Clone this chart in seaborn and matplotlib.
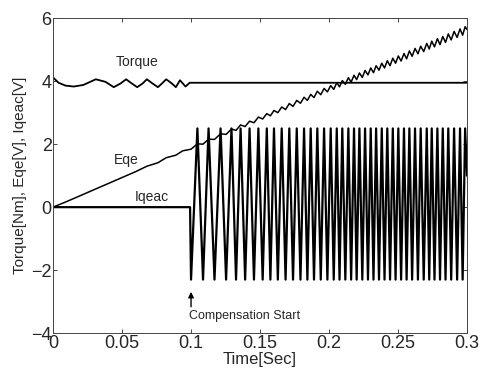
import matplotlib
matplotlib.use("Agg")
import matplotlib.pyplot as plt
import seaborn as sns
import pandas as pd

# Torque
torque_t = [0, 0.004, 0.009, 0.015, 0.022, 0.031, 0.038, 0.044, 0.049, 0.053, 0.057,
            0.061, 0.065, 0.068, 0.072, 0.076, 0.079, 0.082, 0.086, 0.089, 0.092,
            0.096, 0.099, 0.3]
torque_v = [4.12, 3.95, 3.86, 3.83, 3.88, 4.06, 3.98, 3.81, 3.93, 4.06, 3.93,
            3.81, 3.93, 4.06, 3.93, 3.81, 3.93, 4.06, 3.93, 3.81, 4.03,
            3.83, 3.95, 3.95]

# Iqeac extrema times after compensation start
iq_t = [0, 0.0993, 0.1000, 0.1046, 0.1087, 0.1127, 0.1170, 0.1214, 0.1254, 0.1293,
        0.1326, 0.1359, 0.1392, 0.1424, 0.1456, 0.1488, 0.1519, 0.1549, 0.1575,
        0.1601, 0.1629, 0.1657, 0.1685, 0.1712, 0.1739, 0.1766, 0.1793, 0.1819,
        0.1843, 0.1867, 0.1891, 0.1915, 0.1940, 0.1964, 0.1988, 0.2012, 0.2034,
        0.2056, 0.2076, 0.2096, 0.2118, 0.2140, 0.2160, 0.2181, 0.2200, 0.2220,
        0.2241, 0.2261, 0.2282, 0.2302, 0.2322, 0.2341, 0.2362, 0.2382, 0.2402,
        0.2422, 0.2442, 0.2462, 0.2482, 0.2502, 0.2522, 0.2543, 0.2562, 0.2582,
        0.2602, 0.2623, 0.2644, 0.2664, 0.2686, 0.2708, 0.2726, 0.2744, 0.2764,
        0.2785, 0.2804, 0.2824, 0.2844, 0.2864, 0.2885, 0.2906, 0.2928, 0.2949,
        0.2968, 0.2986, 0.3000]
iq_v = [0, 0] + [-2.3, 2.5] * 41 + [1.0]

# Eqe: ramp, small ripple
eqe_t = [0, 0.01, 0.02, 0.03, 0.04, 0.05, 0.06, 0.068, 0.076, 0.082, 0.089, 0.094] + iq_t[2:]
eqe_v = [0, 0.18, 0.37, 0.56, 0.75, 0.94, 1.13, 1.30, 1.41, 1.57, 1.65, 1.79,
         1.84, 2.01, 2.00, 2.16, 2.15, 2.33, 2.31, 2.48, 2.44, 2.61, 2.56, 2.73,
         2.68, 2.86, 2.80, 2.97, 2.90, 3.07, 3.00, 3.18, 3.10, 3.29, 3.20, 3.39,
         3.30, 3.49, 3.39, 3.58, 3.48, 3.68, 3.57, 3.77, 3.66, 3.86, 3.74, 3.95,
         3.82, 4.02, 3.90, 4.11, 3.97, 4.19, 4.05, 4.26, 4.12, 4.34, 4.20, 4.42,
         4.27, 4.49, 4.35, 4.57, 4.42, 4.65, 4.49, 4.73, 4.57, 4.80, 4.64, 4.88,
         4.71, 4.96, 4.79, 5.04, 4.87, 5.11, 4.94, 5.20, 5.02, 5.27, 5.09, 5.35,
         5.16, 5.42, 5.23, 5.50, 5.31, 5.58, 5.39, 5.66, 5.46, 5.73, 5.64]

xticks = [0, 0.05, 0.1, 0.15, 0.2, 0.25, 0.3]
xtick_labels = ["0", "0.05", "0.1", "0.15", "0.2", "0.25", "0.3"]
yticks = [-4, -2, 0, 2, 4, 6]

sns.set_style("ticks")
plt.rcParams['font.family'] = ['Liberation Sans', 'DejaVu Sans']

fig = plt.figure(figsize=(4.82, 3.79), dpi=100)
ax = fig.add_axes([0.110, 0.121, 0.859, 0.831])

df_tq = pd.DataFrame({'t': torque_t, 'v': torque_v})
df_eq = pd.DataFrame({'t': eqe_t, 'v': eqe_v})
df_iq = pd.DataFrame({'t': iq_t, 'v': iq_v})

sns.lineplot(data=df_tq, x='t', y='v', ax=ax, color='black', linewidth=1.3, estimator=None, sort=False)
sns.lineplot(data=df_eq, x='t', y='v', ax=ax, color='black', linewidth=1.1, estimator=None, sort=False)
sns.lineplot(data=df_iq, x='t', y='v', ax=ax, color='black', linewidth=1.6, estimator=None, sort=False)

ax.set_xlim(0, 0.3)
ax.set_ylim(-4, 6)
ax.set_xticks(xticks)
ax.set_xticklabels(xtick_labels)
ax.set_yticks(yticks)
ax.tick_params(direction='in', length=3, width=0.6, labelsize=13, pad=1, top=True, right=True)
for s in ax.spines.values():
    s.set_linewidth(0.7)
    s.set_color('#444444')

ax.set_xlabel('Time[Sec]', fontsize=12, labelpad=0)
ax.set_ylabel('Torque[Nm], Eqe[V], Iqeac[V]', fontsize=11, labelpad=3)

ax.text(0.0606, 4.61, 'Torque', fontsize=10, ha='center', va='center')
ax.text(0.053, 1.49, 'Eqe', fontsize=10, ha='center', va='center')
ax.text(0.0715, 0.33, 'Iqeac', fontsize=10, ha='center', va='center')
ax.annotate('', xy=(0.1, -2.6), xytext=(0.1, -3.25),
            arrowprops=dict(arrowstyle='-|>', color='black', lw=1, mutation_scale=8))
ax.text(0.0985, -3.45, 'Compensation Start', fontsize=9, ha='left', va='center')

fig.savefig('out.png', dpi=100)
